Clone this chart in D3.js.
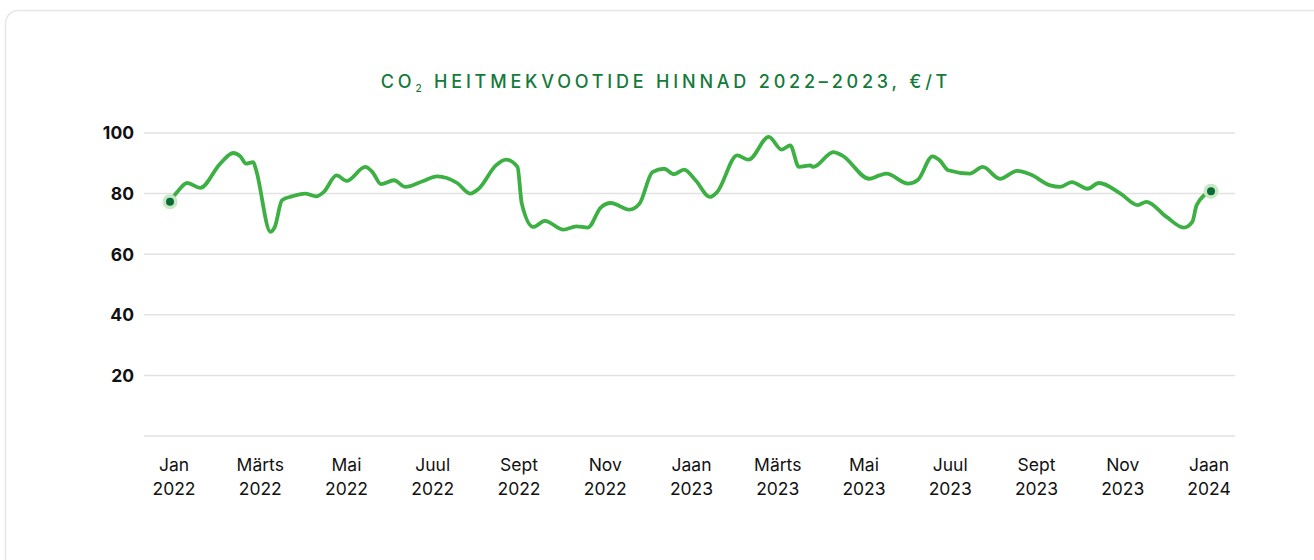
<!DOCTYPE html>
<html>
<head>
<meta charset="utf-8">
<script src="https://cdn.jsdelivr.net/npm/d3@7"></script>
<style>
  html, body { margin: 0; padding: 0; background: #fff; }
  body { width: 1314px; height: 560px; overflow: hidden; font-family: Inter, "Noto Sans", sans-serif; }
</style>
</head>
<body>
<script>
// CO2 allowance prices
var dates = [
    "2022-01-03", "2022-01-08", "2022-01-15", "2022-01-24", "2022-02-07", "2022-02-16",
    "2022-02-21", "2022-02-25", "2022-03-02", "2022-03-04", "2022-03-14", "2022-03-17",
    "2022-03-22", "2022-03-29", "2022-04-07", "2022-04-15", "2022-04-20", "2022-04-29",
    "2022-05-06", "2022-05-19", "2022-05-24", "2022-05-30", "2022-06-08", "2022-06-16",
    "2022-06-28", "2022-07-08", "2022-07-22", "2022-07-31", "2022-08-06", "2022-08-18",
    "2022-08-25", "2022-09-02", "2022-09-05", "2022-09-13", "2022-09-21", "2022-10-04",
    "2022-10-13", "2022-10-21", "2022-10-30", "2022-11-06", "2022-11-19", "2022-11-26",
    "2022-12-05", "2022-12-13", "2022-12-20", "2022-12-27", "2023-01-04", "2023-01-14",
    "2023-01-19", "2023-02-02", "2023-02-10", "2023-02-24", "2023-03-05", "2023-03-11",
    "2023-03-17", "2023-03-25", "2023-03-27", "2023-04-10", "2023-04-16", "2023-05-05",
    "2023-05-12", "2023-05-17", "2023-06-01", "2023-06-08", "2023-06-18", "2023-06-23",
    "2023-06-29", "2023-07-14", "2023-07-23", "2023-08-04", "2023-08-16", "2023-08-25",
    "2023-09-08", "2023-09-15", "2023-09-23", "2023-10-04", "2023-10-12", "2023-10-27",
    "2023-11-08", "2023-11-14", "2023-11-28", "2023-12-10", "2023-12-16", "2023-12-19",
    "2023-12-29"
];
var prices = [
    77.3, 80.5, 83.5, 81.9, 89.9, 93.4,
    92.3, 89.9, 90.4, 87.7, 67.4, 69.0,
    77.8, 79.1, 80.0, 79.1, 80.5, 86.0,
    84.2, 88.8, 87.1, 83.1, 84.4, 82.2,
    84.1, 85.7, 83.5, 80.0, 81.6, 89.3,
    91.2, 88.8, 76.7, 69.0, 71.0, 68.1,
    69.2, 68.8, 75.4, 76.9, 74.7, 76.7,
    87.1, 88.2, 86.4, 87.9, 84.4, 78.9,
    80.5, 92.6, 91.2, 98.7, 94.5, 95.9,
    88.8, 89.3, 88.8, 93.7, 92.6, 84.9,
    86.0, 86.6, 83.3, 84.6, 92.3, 91.0,
    87.7, 86.6, 88.8, 84.9, 87.5, 86.4,
    82.7, 82.2, 83.8, 81.6, 83.5, 80.0,
    76.2, 77.3, 72.3, 68.8, 70.7, 76.2,
    80.8
];
var tickMonths = ["Jan", "Märts", "Mai", "Juul", "Sept", "Nov", "Jaan", "Märts", "Mai", "Juul", "Sept", "Nov", "Jaan"];
var tickYears = ["2022", "2022", "2022", "2022", "2022", "2022", "2023", "2023", "2023", "2023", "2023", "2023", "2024"];
var yTicks = [20, 40, 60, 80, 100];

var width = 1314, height = 560;
var parse = d3.timeParse("%Y-%m-%d");
var points = dates.map((d, i) => ({ date: parse(d), value: prices[i] }));

var svg = d3.select("body")
    .append("svg")
    .attr("width", width)
    .attr("height", height);

// card frame
svg.append("rect")
    .attr("x", 5.5)
    .attr("y", 10.5)
    .attr("width", 1340)
    .attr("height", 600)
    .attr("rx", 13)
    .attr("fill", "#fff")
    .attr("stroke", "#e6e6e6")
    .attr("stroke-width", 1.5);

// title
var title = svg.append("text")
    .attr("x", 666)
    .attr("y", 88)
    .attr("text-anchor", "middle")
    .attr("fill", "#137a3a")
    .style("font-size", "18px")
    .style("font-weight", 500)
    .style("letter-spacing", "3.8px");
title.append("tspan").text("CO");
title.append("tspan").text("2").attr("dy", 4).style("font-size", "10px");
title.append("tspan").text(" HEITMEKVOOTIDE HINNAD 2022–2023, €/T").attr("dy", -4);

var x = d3.scaleTime()
    .domain(d3.extent(points, d => d.date))
    .range([170, 1211]);

var y = d3.scaleLinear()
    .domain([0, 100])
    .range([436, 133]);

// grid
svg.append("g")
    .selectAll("line")
    .data([0].concat(yTicks))
    .enter()
    .append("line")
    .attr("x1", 144)
    .attr("x2", 1235)
    .attr("y1", d => y(d))
    .attr("y2", d => y(d))
    .attr("stroke", "#e2e2e2")
    .attr("stroke-width", 1.5);

svg.append("g")
    .selectAll("text")
    .data(yTicks)
    .enter()
    .append("text")
    .attr("x", 134)
    .attr("y", d => y(d))
    .attr("dy", "0.36em")
    .attr("text-anchor", "end")
    .attr("fill", "#111")
    .style("font-size", "17.5px")
    .style("font-weight", 700)
    .text(d => d);

// x labels, evenly spaced
var xl = d3.scalePoint()
    .domain(d3.range(tickMonths.length))
    .range([174, 1209]);

var labels = svg.append("g")
    .selectAll("text")
    .data(tickMonths)
    .enter()
    .append("text")
    .attr("text-anchor", "middle")
    .attr("fill", "#111")
    .style("font-size", "17.5px");
labels.append("tspan")
    .attr("x", (d, i) => xl(i))
    .attr("y", 471)
    .text(d => d);
labels.append("tspan")
    .attr("x", (d, i) => xl(i))
    .attr("y", 495)
    .text((d, i) => tickYears[i]);

// line
var line = d3.line()
    .x(d => x(d.date))
    .y(d => y(d.value))
    .curve(d3.curveMonotoneX);

svg.append("path")
    .datum(points)
    .attr("d", line)
    .attr("fill", "none")
    .attr("stroke", "#3cb043")
    .attr("stroke-width", 3.8)
    .attr("stroke-linejoin", "round")
    .attr("stroke-linecap", "round");

// end markers
var ends = [points[0], points[points.length - 1]];
svg.append("g")
    .selectAll("circle")
    .data(ends)
    .enter()
    .append("circle")
    .attr("cx", d => x(d.date))
    .attr("cy", d => y(d.value))
    .attr("r", 7.5)
    .attr("fill", "#c6e8c4");
svg.append("g")
    .selectAll("circle")
    .data(ends)
    .enter()
    .append("circle")
    .attr("cx", d => x(d.date))
    .attr("cy", d => y(d.value))
    .attr("r", 4)
    .attr("fill", "#0b6b36");
</script>
</body>
</html>
